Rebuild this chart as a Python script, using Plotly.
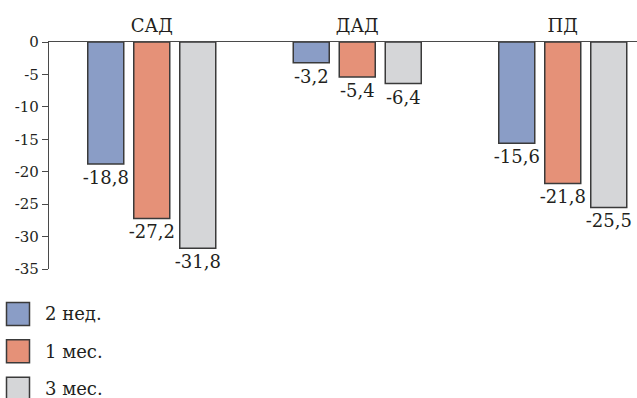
import plotly.graph_objects as go

# Blood pressure reduction by measurement and follow-up period
categories = ["САД", "ДАД", "ПД"]
periods = ["2 нед.", "1 мес.", "3 мес."]
values_2w = [-18.8, -3.2, -15.6]
values_1m = [-27.2, -5.4, -21.8]
values_3m = [-31.8, -6.4, -25.5]
y_ticks = [0, -5, -10, -15, -20, -25, -30, -35]

series = [values_2w, values_1m, values_3m]
colors = ["#8a9dc6", "#e59178", "#d5d6d8"]

FONT = "DejaVu Serif"
W, H = 637, 398
M_L, M_R, M_T, M_B = 49, 0, 41.5, 129
PLOT_W = W - M_L - M_R
PLOT_H = H - M_T - M_B
CAT_PX = 205.5                     # pixel width of one category slot
BAR_W = 36 / CAT_PX                # bar width in category units
STEP = 46 / CAT_PX                 # distance between bar centres in a group


def fmt(v):
    return f"{v:.1f}".replace(".", ",")


fig = go.Figure()
for i, (name, vals, col) in enumerate(zip(periods, series, colors)):
    fig.add_trace(go.Bar(
        x=categories, y=vals, name=name,
        width=BAR_W, offset=(i - 1) * STEP - BAR_W / 2,
        marker=dict(color=col, line=dict(color="#3a3a3a", width=1.5)),
        text=[fmt(v) for v in vals], textposition="outside", constraintext="none",
        textfont=dict(family=FONT, size=18, color="#231f20"),
        cliponaxis=False, showlegend=False,
    ))


def px_x(x):
    return (x - M_L) / PLOT_W


def px_y(y):
    return (H - M_B - y) / PLOT_H


# Legend drawn as large swatches with labels
shapes, annotations = [], []
for i, (name, col) in enumerate(zip(periods, colors)):
    top = 302.5 + i * 37.5
    shapes.append(dict(type="rect", xref="paper", yref="paper",
                       x0=px_x(6.5), x1=px_x(29.5), y0=px_y(top + 23), y1=px_y(top),
                       fillcolor=col, line=dict(color="#3a3a3a", width=1.5)))
    annotations.append(dict(text=name, xref="paper", yref="paper",
                            x=px_x(43), y=px_y(top + 11.5), xanchor="left", yanchor="middle",
                            showarrow=False,
                            font=dict(family=FONT, size=18, color="#231f20")))

fig.update_layout(
    width=W, height=H,
    margin=dict(l=M_L, r=M_R, t=M_T, b=M_B, pad=0),
    paper_bgcolor="white", plot_bgcolor="white",
    barmode="overlay",
    shapes=shapes, annotations=annotations,
    font=dict(family=FONT, color="#231f20"),
    xaxis=dict(side="top", range=[-0.5, -0.5 + PLOT_W / CAT_PX],
               showline=True, linecolor="#4a4a4a", linewidth=1.2,
               ticks="", showgrid=False, zeroline=False,
               tickfont=dict(family=FONT, size=18, color="#231f20"),
               ticklabelstandoff=2),
    yaxis=dict(range=[-35, 0], tickvals=y_ticks, ticktext=[str(t) for t in y_ticks],
               showline=True, linecolor="#4a4a4a", linewidth=1.2,
               ticks="outside", ticklen=6, tickwidth=1.2, tickcolor="#4a4a4a",
               showgrid=False, zeroline=False,
               tickfont=dict(family=FONT, size=15, color="#231f20")),
)

fig.write_html("out.html")
